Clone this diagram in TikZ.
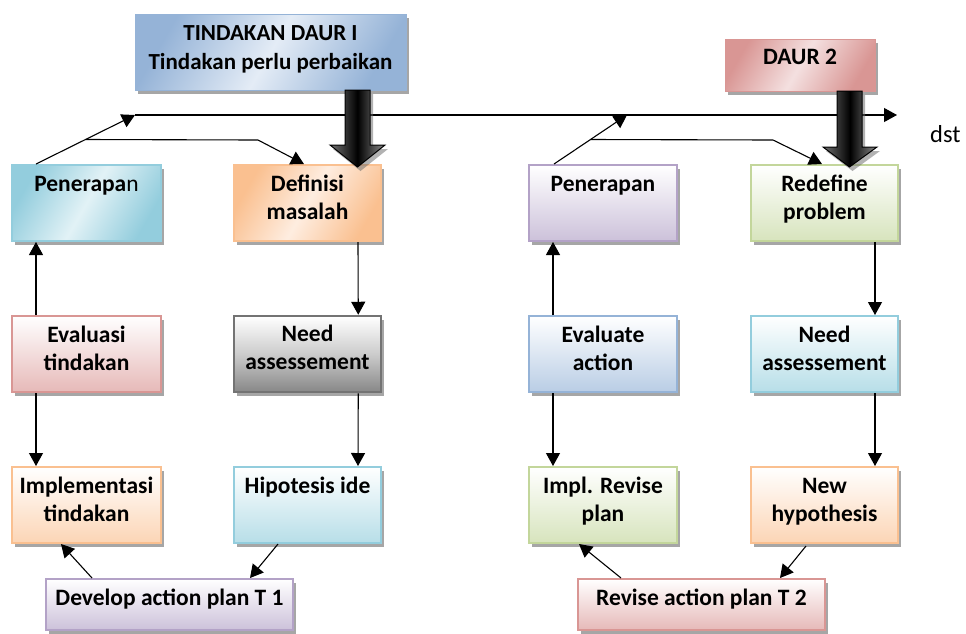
\documentclass[tikz,border=0pt]{standalone}
\usepackage{fontspec}
\setmainfont{Carlito}
\usetikzlibrary{arrows.meta,shadows,fit}
\definecolor{blueDk}{HTML}{95B3D7}\definecolor{blueLt}{HTML}{E4ECF6}
\definecolor{cyanDk}{HTML}{93CDDD}\definecolor{cyanLt}{HTML}{E2F2F6}
\definecolor{orgDk}{HTML}{FAC090}\definecolor{orgLt}{HTML}{FEEDE0}
\definecolor{redDk}{HTML}{D99694}\definecolor{redLt}{HTML}{F4E0E0}
\definecolor{purDk}{HTML}{B3A2C7}\definecolor{purFill}{HTML}{CCC1DA}
\definecolor{grnDk}{HTML}{C3D69B}\definecolor{grnFill}{HTML}{D7E4BD}
\definecolor{pinkFill}{HTML}{E6B9B8}
\definecolor{bluFill}{HTML}{B9CDE5}
\definecolor{cyaFill}{HTML}{B7DEE8}
\definecolor{orgFill}{HTML}{FCD5B5}
\tikzset{
  box/.style={inner sep=0pt, line width=2pt,
    drop shadow={shadow xshift=2.5pt, shadow yshift=-3.5pt, opacity=.35, fill=black}},
  diag/.style={draw=#1Dk, left color=#1Dk, right color=#1Dk, middle color=#1Lt, shading angle=60},
  vert/.style 2 args={draw=#1, top color=white, bottom color=#2},
  lbl/.style={anchor=north, inner sep=0pt, align=center,
    font=\fontsize{23.5}{28}\selectfont\bfseries},
  conn/.style={draw, line width=1.1pt, -{Triangle[length=13pt,width=14pt]}},
  bigarrow/.style={draw=black, line width=1pt, left color=black!55, right color=black!45, middle color=black,
    drop shadow={shadow xshift=3pt, shadow yshift=-4pt, opacity=.5, fill=black!60}},
}
\newcommand\mkbox[7]{%
  \node[box,#6,fit={(#2,#3) (#4,#5)}] (#1) {};
  \node[lbl] (#1t) at ([yshift=-7.4pt]#1.north) {\strut #7};
}
\begin{document}
\begin{tikzpicture}[x=1pt,y=-1pt]
\useasboundingbox (0,0) rectangle (966,633);
% top boxes
\node[box,diag=blue,line width=1pt,fit={(135,14) (406,90)}] (top1) {};
\node[lbl,font=\fontsize{23}{29}\selectfont\bfseries] (top1t) at ([yshift=-6.5pt]top1.north) {\strut TINDAKAN DAUR I\\Tindakan perlu perbaikan};
\node[box,diag=red,line width=1pt,fit={(725,39) (875,91)}] (daur) {};
\node[lbl] (daurt) at ([yshift=-6.4pt]daur.north) {\strut DAUR 2};
% row 1
\node[box,diag=cyan,fit={(12,165) (161,241)}] (pen1) {};
\node[lbl] (pen1t) at ([yshift=-7.4pt]pen1.north) {\strut Penerapa{\mdseries n}};
\node[box,diag=org,fit={(234,165) (381,241)}] (def) {};
\node[lbl] (deft) at ([yshift=-7.4pt]def.north) {\strut Definisi\\masalah};
\mkbox{pen2}{529}{165}{677}{241}{vert={purDk}{purFill}}{Penerapan}
\mkbox{redef}{751}{165}{898}{241}{vert={grnDk}{grnFill}}{Redefine\\problem}
% row 2
\mkbox{ev1}{12}{316}{161}{392}{vert={redDk}{pinkFill}}{Evaluasi\\tindakan}
\node[box,draw=black!55,top color=white,bottom color=black!47,middle color=black!20,line width=2.5pt,fit={(234,316) (381,392)}] (need1) {};
\node[lbl] (need1t) at ([yshift=-7.4pt]need1.north) {\strut Need\\assessement};
\mkbox{ev2}{529}{316}{677}{392}{vert={blueDk}{bluFill}}{Evaluate\\action}
\mkbox{need2}{751}{316}{898}{392}{vert={cyanDk}{cyaFill}}{Need\\assessement}
% row 3
\mkbox{impl1}{12}{467}{161}{543}{vert={orgDk}{orgFill}}{Implementasi\\tindakan}
\mkbox{hip}{234}{467}{381}{543}{vert={cyanDk}{cyaFill}}{Hipotesis ide}
\mkbox{impl2}{529}{467}{677}{543}{vert={grnDk}{grnFill}}{Impl. Revise\\plan}
\mkbox{newh}{751}{467}{898}{543}{vert={orgDk}{orgFill}}{New\\hypothesis}
% bottom
\mkbox{dev}{46}{579}{293}{630}{vert={purDk}{purFill}}{Develop action plan T 1}
\mkbox{rev}{578}{579}{825}{630}{vert={redDk}{pinkFill}}{Revise action plan T 2}
% dst
\node[anchor=base west, inner sep=0pt, font=\fontsize{24.5}{28}\selectfont] (dst) at (930,142) {dst};
% coordinates
\coordinate (j1) at (135,115);
\coordinate (j2) at (627,115);
\coordinate (tend) at (897,115);
\coordinate (k1) at (258,140);
\coordinate (k2) at (773,140);
% connectors
\draw[conn] ([xshift=25pt]pen1.north west) -- (j1);
\draw[conn] ([xshift=26pt]pen2.north west) -- (j2);
\draw[conn] (j1) -- (tend);
\path ([xshift=25pt]pen1.north west) -- (j1) coordinate[pos=0.5] (m1);
\path ([xshift=26pt]pen2.north west) -- (j2) coordinate[pos=0.5] (m2);
\draw[conn] (m1) -- (k1) -- ([xshift=71pt]def.north west);
\draw[conn] (m2) -- (k2) -- ([xshift=72pt]redef.north west);
\draw[conn] ([xshift=25pt]ev1.north west) -- ([xshift=25pt]pen1.south west);
\draw[conn] ([xshift=25pt]ev1.south west) -- ([xshift=25pt]impl1.north west);
\draw[conn] ([xshift=-24pt]def.south east) -- ([xshift=-24pt]need1.north east);
\draw[conn] ([xshift=-24pt]need1.south east) -- ([xshift=-24pt]hip.north east);
\draw[conn] ([xshift=25pt]ev2.north west) -- ([xshift=25pt]pen2.south west);
\draw[conn] ([xshift=25pt]ev2.south west) -- ([xshift=25pt]impl2.north west);
\draw[conn] ([xshift=-24pt]redef.south east) -- ([xshift=-24pt]need2.north east);
\draw[conn] ([xshift=-24pt]need2.south east) -- ([xshift=-24pt]newh.north east);
\draw[conn] ([xshift=47pt]dev.north west) -- ([xshift=50pt]impl1.south west);
\draw[conn] ([xshift=45pt]hip.south west) -- ([xshift=205pt]dev.north west);
\draw[conn] ([xshift=44pt]rev.north west) -- ([xshift=51pt]impl2.south west);
\draw[conn] ([xshift=56pt,yshift=-2pt]newh.south west) -- ([xshift=203pt]rev.north west);
% big arrows
\path[bigarrow] (345,90) -- (370,90) -- (370,145) -- (385,145) -- (357.5,167) -- (330,145) -- (345,145) -- cycle;
\path[bigarrow] (837,91) -- (862,91) -- (862,147) -- (877,147) -- (849.5,167) -- (823,147) -- (837,147) -- cycle;
\end{tikzpicture}
\end{document}
